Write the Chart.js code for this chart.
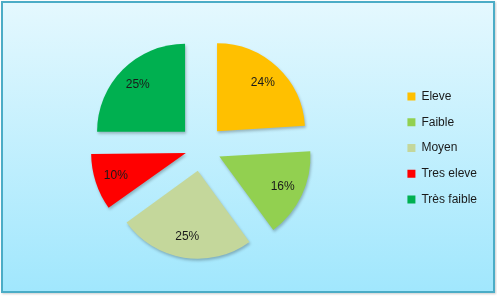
<!DOCTYPE html>
<html>
<head>
<meta charset="utf-8">
<script src="https://cdn.jsdelivr.net/npm/chart.js@4"></script>
<style>
    body { margin: 0; background: #fff; }
    #cadre {
        position: absolute; left: 1px; top: 1px; width: 494px; height: 292px;
        box-sizing: border-box; border: 2px solid #4bacc6;
        background: linear-gradient(to bottom, #e4f8fe, #a1e7fd);
        box-shadow: 1px 1px 2px rgba(0,0,0,0.2);
    }
    #graphique { position: absolute; left: 0; top: 0; }
</style>
</head>
<body>
<div id="cadre"></div>
<canvas id="graphique" width="497" height="296"></canvas>
<script>
// Données du graphique
const categories = ['Eleve', 'Faible', 'Moyen', 'Tres eleve', 'Très faible'];
const valeurs = [24, 16, 25, 10, 25];
const couleurs = ['#FFC000', '#92D050', '#C4D79B', '#FF0000', '#00B050'];

const total = valeurs.reduce((a, b) => a + b, 0);
const ecart = 23; // décalage des parts (px)

// Chart.js translate l'arc de offset/4 * (2 - sin(angle)), on compense
function offsetPart(ctx) {
    const angle = valeurs[ctx.dataIndex] / total * Math.PI * 2;
    return ecart * 4 / (2 - Math.sin(Math.min(Math.PI, angle)));
}

// Ombre légère sous les parts
const ombre = {
    id: 'ombre',
    beforeDatasetsDraw(chart) {
        const c = chart.ctx;
        c.save();
        c.shadowColor = 'rgba(0,0,0,0.25)';
        c.shadowBlur = 3;
        c.shadowOffsetX = 1;
        c.shadowOffsetY = 2;
    },
    afterDatasetsDraw(chart) {
        chart.ctx.restore();
    }
};

// Étiquettes en pourcentage dans les parts
const etiquettes = {
    id: 'etiquettes',
    afterDatasetsDraw(chart) {
        const c = chart.ctx;
        const meta = chart.getDatasetMeta(0);
        c.save();
        c.font = '12px "Liberation Sans", Arial, sans-serif';
        c.fillStyle = '#1a1a1a';
        c.textAlign = 'center';
        c.textBaseline = 'middle';
        meta.data.forEach((arc, i) => {
            const mi = (arc.startAngle + arc.endAngle) / 2;
            const d = ecart + arc.outerRadius * 0.76;
            const x = arc.x + Math.cos(mi) * d;
            const y = arc.y + Math.sin(mi) * d;
            c.fillText(Math.round(valeurs[i] / total * 100) + '%', x, y);
        });
        c.restore();
    }
};

new Chart(document.getElementById('graphique'), {
    type: 'pie',
    data: {
        labels: categories,
        datasets: [{
            data: valeurs,
            backgroundColor: couleurs,
            borderWidth: 0,
            offset: offsetPart
        }]
    },
    options: {
        responsive: false,
        animation: false,
        radius: 88,
        layout: { padding: { left: 9, right: 10, top: 0, bottom: 0 } },
        plugins: {
            tooltip: { enabled: false },
            legend: {
                position: 'right',
                labels: {
                    boxWidth: 8,
                    boxHeight: 8,
                    padding: 13.75,
                    color: '#1a1a1a',
                    font: { family: '"Liberation Sans", Arial, sans-serif', size: 12 }
                }
            }
        }
    },
    plugins: [ombre, etiquettes]
});
</script>
</body>
</html>
